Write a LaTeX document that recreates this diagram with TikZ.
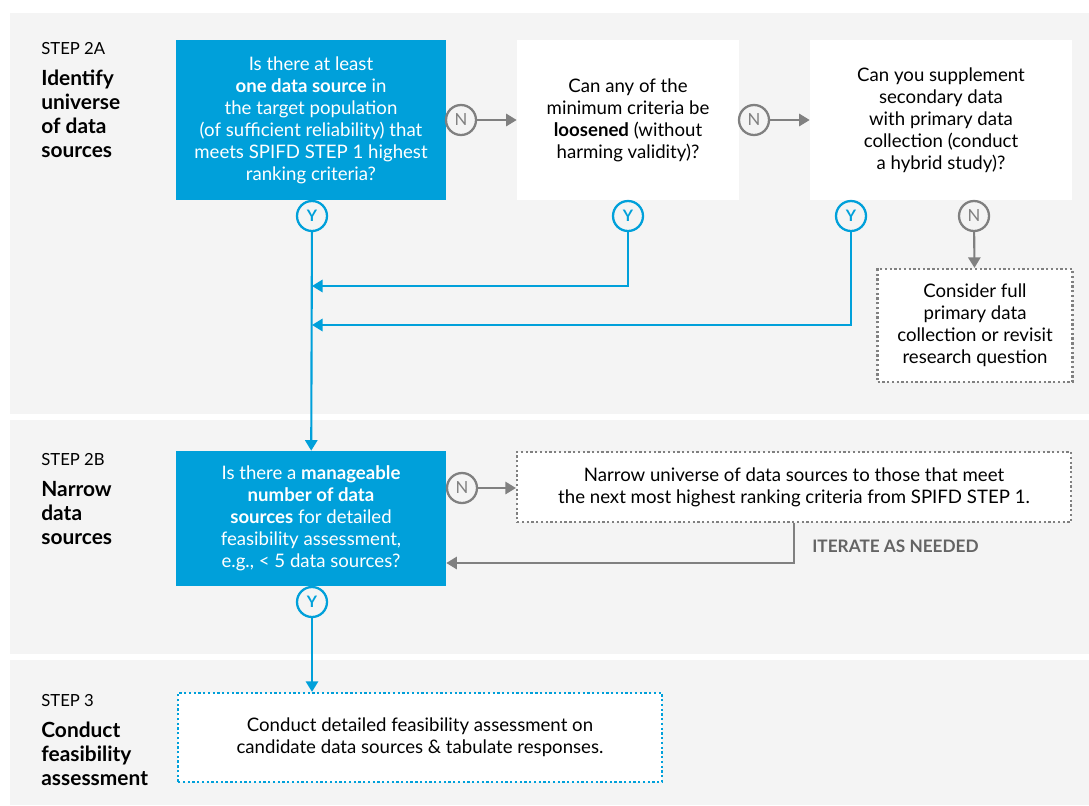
\documentclass[tikz,border=0pt]{standalone}
\usepackage{fontspec}
\setmainfont{Lato}
\usepackage{xcolor}
\usetikzlibrary{arrows.meta}

\definecolor{azul}{RGB}{0,160,218}
\definecolor{gris}{RGB}{128,128,128}
\definecolor{grisosc}{RGB}{100,100,100}
\definecolor{fondo}{RGB}{244,244,244}

\begin{document}
\begin{tikzpicture}[x=0.02cm, y=-0.02cm,
    boxtxt/.style={font=\fontsize{10.6}{12.5}\selectfont, align=center, inner sep=0pt},
    bluebox/.style={boxtxt, fill=azul, text=white},
    whitebox/.style={boxtxt, fill=white},
    dotbox/.style={boxtxt, fill=white, draw=gris, line width=1.3pt, dash pattern=on 1.3pt off 1.4pt},
    ycirc/.style={circle, draw=azul, fill=fondo, line width=1.3pt, minimum size=0.6cm, inner sep=0pt,
        text=azul, font=\bfseries\fontsize{9}{9}\selectfont},
    ncirc/.style={ycirc, draw=gris, text=gris, font=\fontsize{9.5}{9.5}\selectfont},
    barrow/.style={azul, line width=1.2pt, -{Triangle[length=6pt,width=7pt]}},
    garrow/.style={gris, line width=1.2pt, -{Triangle[length=6pt,width=7pt]}},
    steptxt/.style={font=\fontsize{9.5}{11}\selectfont, anchor=base west, inner sep=0pt},
    titletxt/.style={font=\bfseries\fontsize{11.9}{13.6}\selectfont, align=left, anchor=west, inner sep=0pt}]

    % marco
    \useasboundingbox (0,0) rectangle (1089,805);
    \fill[white] (0,0) rectangle (1089,805);

    % franjas de fondo
    \fill[fondo] (10,13) rectangle (1089,414);
    \fill[fondo] (10,420) rectangle (1089,654);
    \fill[fondo] (10,660) rectangle (1089,805);

    % etiquetas de los pasos
    \node[steptxt] (s2a) at (41,54) {STEP 2A};
    \node[titletxt] (t2a) at (41,114) {Identify\\universe\\of data\\sources};
    \node[steptxt] (s2b) at (41,465) {STEP 2B};
    \node[titletxt] (t2b) at (41,513) {Narrow\\data\\sources};
    \node[steptxt] (s3) at (41,706) {STEP 3};
    \node[titletxt] (t3) at (41,754) {Conduct\\feasibility\\assessment};

    % paso 2A
    \node[bluebox, minimum width=5.4cm, minimum height=3.2cm] (A) at (311,120)
        {Is there at least\\\textbf{one data source} in\\the target population\\(of sufficient reliability) that\\meets SPIFD STEP 1 highest\\ranking criteria?};
    \node[whitebox, minimum width=4.44cm, minimum height=3.2cm] (B) at (628,120)
        {Can any of the\\minimum criteria be\\\textbf{loosened} (without\\harming validity)?};
    \node[whitebox, minimum width=5.24cm, minimum height=3.2cm] (C) at (941,120)
        {Can you supplement\\secondary data\\with primary data\\collection (conduct\\a hybrid study)?};
    \node[dotbox, minimum width=3.9cm, minimum height=2.26cm] (D) at (975,325.5)
        {Consider full\\primary data\\collection or revisit\\research question};

    \node[ncirc] (nA) at (461,120) {N};
    \node[ncirc] (nB) at (754,120) {N};
    \node[ycirc] (yA) at (312,216) {Y};
    \node[ycirc] (yB) at (628,216) {Y};
    \node[ycirc] (yC) at (851,216) {Y};
    \node[ncirc] (nC) at (974,216) {N};

    % paso 2B
    \node[bluebox, minimum width=5.4cm, minimum height=2.7cm] (E) at (311,518.5)
        {Is there a \textbf{manageable}\\\textbf{number of data}\\\textbf{sources} for detailed\\feasibility assessment,\\e.g., < 5 data sources?};
    \node[dotbox, minimum width=11.08cm, minimum height=1.4cm] (F) at (794,487)
        {Narrow universe of data sources to those that meet\\the next most highest ranking criteria from SPIFD STEP 1.};
    \node[ncirc] (nE) at (462,488) {N};
    \node[ycirc] (yE) at (312,602) {Y};
    \node[font=\bfseries\fontsize{9.8}{11}\selectfont, text=grisosc, anchor=west, inner sep=0pt] (iter) at (812,546) {ITERATE AS NEEDED};

    % paso 3
    \node[dotbox, draw=azul, minimum width=9.68cm, minimum height=1.78cm] (G) at (420,737.5)
        {Conduct detailed feasibility assessment on\\candidate data sources \& tabulate responses.};

    % uniones
    \coordinate (j1) at (312,286);
    \coordinate (j2) at (312,325);
    \coordinate (it) at (794,563);

    % flechas N
    \draw[garrow] (nA) -- (B);
    \draw[garrow] (nB) -- (C);
    \draw[garrow] (nC) -- (D);
    \draw[garrow] (nE) -- (F.west |- nE);
    \draw[garrow] (F.south -| it) -- (it) -- (E.east |- it);

    % flechas Y
    \draw[barrow] (yA) -- (E);
    \draw[barrow] (yB) |- (j1);
    \draw[barrow] (yC) |- (j2);
    \draw[barrow] (yE) -- (G.north -| yE);

\end{tikzpicture}
\end{document}
